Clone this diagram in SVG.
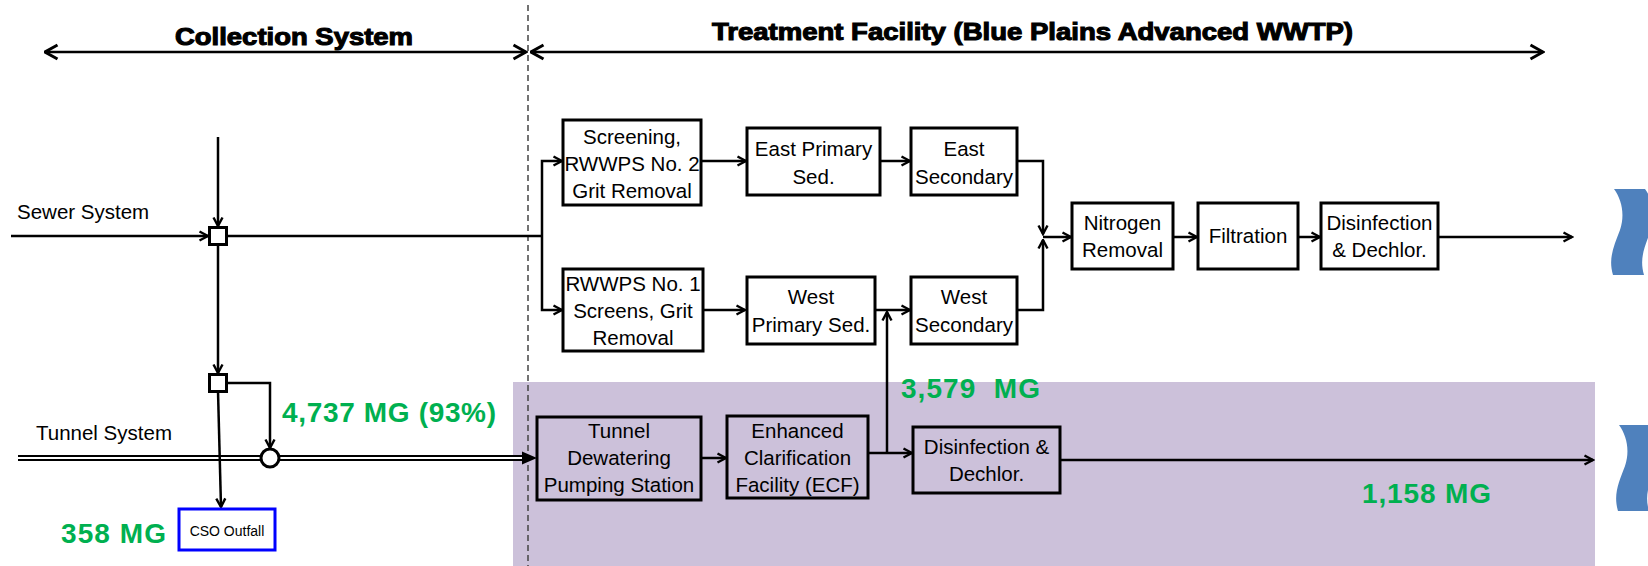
<svg xmlns="http://www.w3.org/2000/svg" width="1648" height="566" viewBox="0 0 1648 566">
<style>
.box{fill:#fff;stroke:#000;stroke-width:3}
.boxp{fill:none;stroke:#000;stroke-width:3}
.t{font-family:"Liberation Sans",Arial,sans-serif;font-size:20.5px;fill:#000;text-anchor:middle}
.l{font-family:"Liberation Sans",Arial,sans-serif;font-size:20.5px;fill:#000}
.c{fill:none;stroke:#000;stroke-width:2.5}
.g{font-family:"Liberation Sans",Arial,sans-serif;font-weight:bold;font-size:28px;fill:#00B050;white-space:pre}
.h{font-family:"Liberation Sans",Arial,sans-serif;font-weight:bold;font-size:24px;fill:#000;stroke:#000;stroke-width:1.1}
.river{fill:#4F81BD}
</style>
<defs>
<marker id="a" viewBox="0 0 12 12" refX="10.5" refY="6" markerWidth="12" markerHeight="12" markerUnits="userSpaceOnUse" orient="auto">
<path d="M2,1.5 L10.5,6 L2,10.5" fill="none" stroke="#000" stroke-width="2.4"/>
</marker>
<marker id="ab" viewBox="0 0 16 18" refX="14.5" refY="9" markerWidth="16" markerHeight="18" markerUnits="userSpaceOnUse" orient="auto-start-reverse">
<path d="M2,2 L14.5,9 L2,16" fill="none" stroke="#000" stroke-width="3"/>
</marker>
<path id="wave" d="M0,0 C8,11 11,26 6,41 C0,57 -6,69 -1,86 L30,86 C25,69 31,57 37,41 C42,26 39,11 31,0 Z"/>
</defs>

<rect id="ecf-zone" x="513" y="382" width="1082" height="184" fill="#CCC1DA"/>

<g id="titles">
<text class="h" x="175" y="45" textLength="238" lengthAdjust="spacingAndGlyphs">Collection System</text>
<text class="h" x="712" y="40" textLength="641" lengthAdjust="spacingAndGlyphs">Treatment Facility (Blue Plains Advanced WWTP)</text>
</g>

<g id="connectors">
<line class="c" x1="45" y1="52" x2="526" y2="52" stroke-width="3" marker-start="url(#ab)" marker-end="url(#ab)"/>
<line class="c" x1="531" y1="52" x2="1543" y2="52" stroke-width="3" marker-start="url(#ab)" marker-end="url(#ab)"/>
<line x1="528" y1="5" x2="528" y2="566" stroke="#444" stroke-width="1.5" stroke-dasharray="6,4"/>

<line class="c" x1="11" y1="236" x2="208" y2="236" marker-end="url(#a)"/>
<line class="c" x1="218" y1="137" x2="218" y2="226" marker-end="url(#a)"/>
<line class="c" x1="218" y1="245" x2="218" y2="373" marker-end="url(#a)"/>
<line class="c" x1="227" y1="236" x2="542" y2="236"/>
<path class="c" d="M542,236 V161 H562" marker-end="url(#a)"/>
<path class="c" d="M542,236 V310 H562" marker-end="url(#a)"/>
<line class="c" x1="701" y1="161" x2="746" y2="161" marker-end="url(#a)"/>
<line class="c" x1="880" y1="161" x2="910" y2="161" marker-end="url(#a)"/>
<path class="c" d="M1017,161 H1043 V234" marker-end="url(#a)"/>
<path class="c" d="M1017,310 H1043 V240" marker-end="url(#a)"/>
<line class="c" x1="1043" y1="237" x2="1071" y2="237" marker-end="url(#a)"/>
<line class="c" x1="1173" y1="237" x2="1197" y2="237" marker-end="url(#a)"/>
<line class="c" x1="1298" y1="237" x2="1320" y2="237" marker-end="url(#a)"/>
<line class="c" x1="1438" y1="237" x2="1572" y2="237" marker-end="url(#a)"/>
<line class="c" x1="703" y1="310" x2="745" y2="310" marker-end="url(#a)"/>
<line class="c" x1="875" y1="310" x2="910" y2="310" marker-end="url(#a)"/>
<line class="c" x1="868" y1="453" x2="912" y2="453" marker-end="url(#a)"/>
<line class="c" x1="887" y1="453" x2="887" y2="312" marker-end="url(#a)"/>
<line class="c" x1="701" y1="458" x2="726" y2="458" marker-end="url(#a)"/>
<line class="c" x1="1060" y1="460" x2="1593" y2="460" marker-end="url(#a)"/>
<path class="c" d="M227,383 H270 V448" marker-end="url(#a)"/>
<line x1="18" y1="458" x2="261" y2="458" stroke="#000" stroke-width="6"/>
<line x1="18" y1="458" x2="261" y2="458" stroke="#fff" stroke-width="1.8"/>
<line x1="279" y1="458" x2="525" y2="458" stroke="#000" stroke-width="6"/>
<line x1="279" y1="458" x2="522" y2="458" stroke="#fff" stroke-width="1.8"/>
<polygon points="522,451.5 537,458 522,464.5" fill="#000"/>
<line class="c" x1="218" y1="391" x2="221" y2="507" marker-end="url(#a)"/>
</g>

<g id="sewer-label"><text class="l" x="17" y="219">Sewer System</text></g>
<g id="tunnel-label"><text class="l" x="36" y="440">Tunnel System</text></g>

<g id="junction-1"><rect class="box" x="209.5" y="227.5" width="17" height="17"/></g>
<g id="junction-2"><rect class="box" x="209.5" y="374.5" width="17" height="17"/></g>
<g id="junction-3"><circle class="box" cx="270" cy="458" r="9"/></g>

<g id="screening">
<rect class="box" x="563" y="120" width="138" height="85"/>
<text class="t" x="632" y="144">Screening,</text>
<text class="t" x="632" y="171">RWWPS No. 2</text>
<text class="t" x="632" y="198">Grit Removal</text>
</g>
<g id="east-primary">
<rect class="box" x="747" y="128" width="133" height="67"/>
<text class="t" x="813.5" y="156">East Primary</text>
<text class="t" x="813.5" y="184">Sed.</text>
</g>
<g id="east-secondary">
<rect class="box" x="911" y="128" width="106" height="67"/>
<text class="t" x="964" y="156">East</text>
<text class="t" x="964" y="184">Secondary</text>
</g>
<g id="rwwps1">
<rect class="box" x="563" y="269" width="140" height="82"/>
<text class="t" x="633" y="291">RWWPS No. 1</text>
<text class="t" x="633" y="318">Screens, Grit</text>
<text class="t" x="633" y="345">Removal</text>
</g>
<g id="west-primary">
<rect class="box" x="747" y="277" width="128" height="67"/>
<text class="t" x="811" y="304">West</text>
<text class="t" x="811" y="332">Primary Sed.</text>
</g>
<g id="west-secondary">
<rect class="box" x="911" y="277" width="106" height="67"/>
<text class="t" x="964" y="304">West</text>
<text class="t" x="964" y="332">Secondary</text>
</g>
<g id="nitrogen">
<rect class="box" x="1072" y="203" width="101" height="66"/>
<text class="t" x="1122.5" y="230">Nitrogen</text>
<text class="t" x="1122.5" y="257">Removal</text>
</g>
<g id="filtration">
<rect class="box" x="1198" y="203" width="100" height="66"/>
<text class="t" x="1248" y="243">Filtration</text>
</g>
<g id="disinfection-main">
<rect class="box" x="1321" y="203" width="117" height="66"/>
<text class="t" x="1379.5" y="230">Disinfection</text>
<text class="t" x="1379.5" y="257">&amp; Dechlor.</text>
</g>
<g id="tunnel-dewatering">
<rect class="boxp" x="537" y="417" width="164" height="83"/>
<text class="t" x="619" y="438">Tunnel</text>
<text class="t" x="619" y="465">Dewatering</text>
<text class="t" x="619" y="492">Pumping Station</text>
</g>
<g id="ecf">
<rect class="boxp" x="727" y="416" width="141" height="82"/>
<text class="t" x="797.5" y="438">Enhanced</text>
<text class="t" x="797.5" y="465">Clarification</text>
<text class="t" x="797.5" y="492">Facility (ECF)</text>
</g>
<g id="disinfection-wet">
<rect class="boxp" x="913" y="427" width="147" height="66"/>
<text class="t" x="986.5" y="454">Disinfection &amp;</text>
<text class="t" x="986.5" y="481">Dechlor.</text>
</g>
<g id="cso-outfall">
<rect x="179" y="509" width="96" height="41" fill="#fff" stroke="#0000FF" stroke-width="3"/>
<text class="t" x="227" y="536" style="font-size:14px">CSO Outfall</text>
</g>

<g id="volumes">
<text class="g" x="282" y="422" textLength="214">4,737 MG (93%)</text>
<text class="g" x="61" y="543" textLength="105">358 MG</text>
<text class="g" x="901" y="398" textLength="139">3,579  MG</text>
<text class="g" x="1362" y="503" textLength="129">1,158 MG</text>
</g>

<g id="river-top"><use href="#wave" class="river" transform="translate(1614,189)"/></g>
<g id="river-bottom"><use href="#wave" class="river" transform="translate(1619,425)"/></g>
</svg>
